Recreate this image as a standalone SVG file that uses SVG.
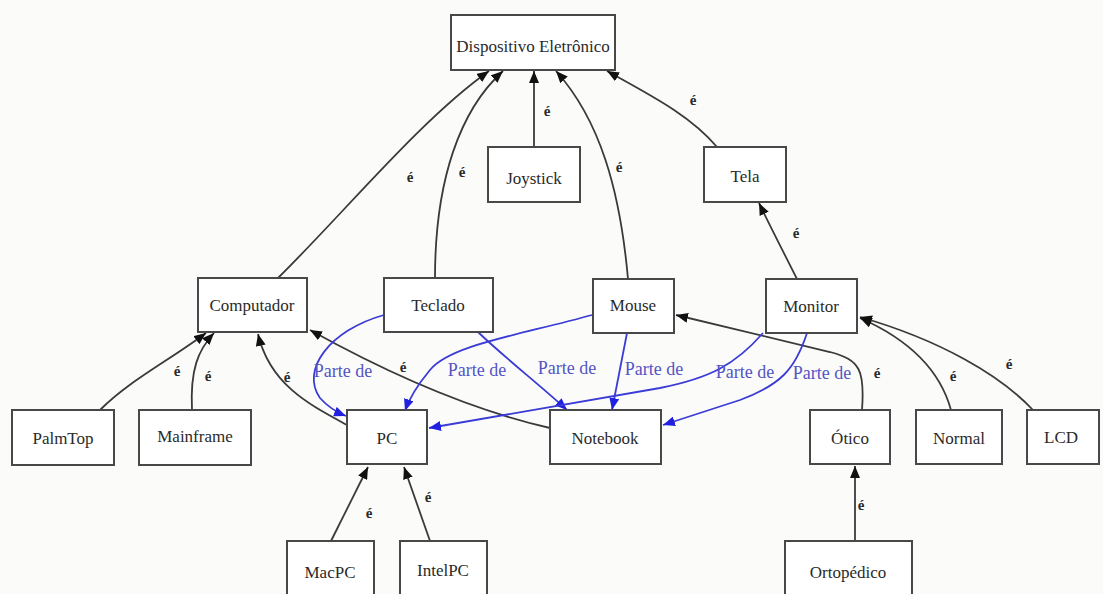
<svg xmlns="http://www.w3.org/2000/svg" width="1103" height="594" viewBox="0 0 1103 594">
  <style>
    .node rect { fill: #ffffff; stroke: #484848; stroke-width: 2; }
    .node text { font-family: 'Liberation Serif', 'DejaVu Serif', serif; font-size: 17px; fill: #2a2a2a; text-anchor: middle; }
    .is { fill: none; stroke: #3a3a3a; stroke-width: 1.8; marker-end: url(#ah); }
    .part { fill: none; stroke: #3b3bd6; stroke-width: 1.8; marker-end: url(#bh); }
    .lbl { font-family: 'Liberation Serif', 'DejaVu Serif', serif; font-size: 15px; font-weight: bold; fill: #2a2a2a; text-anchor: middle; }
    .plbl { font-family: 'Liberation Serif', 'DejaVu Serif', serif; font-size: 18px; fill: #5454c4; text-anchor: middle; }
  </style>
  <defs>
    <marker id="ah" viewBox="0 0 12 10" refX="12" refY="5" markerWidth="12" markerHeight="10" markerUnits="userSpaceOnUse" orient="auto">
      <path d="M0,0 L12,5 L0,10 z" fill="#111"/>
    </marker>
    <marker id="bh" viewBox="0 0 12 10" refX="12" refY="5" markerWidth="12" markerHeight="10" markerUnits="userSpaceOnUse" orient="auto">
      <path d="M0,0 L12,5 L0,10 z" fill="#2020e0"/>
    </marker>
  </defs>
  <rect width="1103" height="594" fill="#fbfcfa"/>

  <!-- connectors -->
  <g id="edges">
    <!-- "é" (is-a) links -->
    <path class="is" d="M278,278 C345,212 420,120 489,71"/>
    <path class="is" d="M435,278 C435,180 460,110 503,71"/>
    <path class="is" d="M534,147 L534,71"/>
    <path class="is" d="M628,279 C620,190 600,120 556,71"/>
    <path class="is" d="M717,147 C690,115 650,95 607,71"/>
    <path class="is" d="M797,279 C785,255 772,230 759,203"/>
    <path class="is" d="M100,410 C130,380 170,360 206,333"/>
    <path class="is" d="M192,410 C190,370 198,350 214,333"/>
    <path class="is" d="M347,425 C310,405 270,385 258,334"/>
    <path class="is" d="M550,428 C480,412 400,380 310,330"/>
    <path class="is" d="M862,410 C865,370 860,360 830,352 L676,315"/>
    <path class="is" d="M951,410 C940,370 910,340 860,318"/>
    <path class="is" d="M1033,410 C1000,375 940,340 860,317"/>
    <path class="is" d="M331,541 L368,467"/>
    <path class="is" d="M430,541 L404,467"/>
    <path class="is" d="M855,541 L855,466"/>

    <!-- "Parte de" (part-of) links -->
    <path class="part" d="M384,315 C330,330 300,370 320,398 C328,407 336,412 346,416"/>
    <path class="part" d="M592,315 C520,335 450,345 430,370 C420,382 410,396 405,411"/>
    <path class="part" d="M478,332 C505,358 540,385 567,410"/>
    <path class="part" d="M627,333 L612,410"/>
    <path class="part" d="M763,333 C735,365 710,378 660,388 L429,428"/>
    <path class="part" d="M807,333 C795,370 780,385 740,400 L663,425"/>

    <!-- labels -->
    <text class="lbl" x="410" y="182">é</text>
    <text class="lbl" x="462" y="177">é</text>
    <text class="lbl" x="547" y="116">é</text>
    <text class="lbl" x="619" y="172">é</text>
    <text class="lbl" x="693" y="105">é</text>
    <text class="lbl" x="796" y="238">é</text>
    <text class="lbl" x="177" y="376">é</text>
    <text class="lbl" x="208" y="381">é</text>
    <text class="lbl" x="287" y="382">é</text>
    <text class="lbl" x="403" y="372">é</text>
    <text class="lbl" x="877" y="378">é</text>
    <text class="lbl" x="953" y="381">é</text>
    <text class="lbl" x="1009" y="369">é</text>
    <text class="lbl" x="369" y="518">é</text>
    <text class="lbl" x="428" y="502">é</text>
    <text class="lbl" x="861" y="510">é</text>

    <text class="plbl" x="343" y="377">Parte de</text>
    <text class="plbl" x="477" y="376">Parte de</text>
    <text class="plbl" x="567" y="374">Parte de</text>
    <text class="plbl" x="654" y="375">Parte de</text>
    <text class="plbl" x="745" y="378">Parte de</text>
    <text class="plbl" x="822" y="379">Parte de</text>
  </g>

  <!-- nodes -->
  <g id="dispositivo" class="node"><rect x="451" y="15" width="164" height="55"/><text x="533" y="52">Dispositivo Eletrônico</text></g>
  <g id="joystick" class="node"><rect x="488" y="147" width="92" height="55"/><text x="534" y="184">Joystick</text></g>
  <g id="tela" class="node"><rect x="704" y="147" width="82" height="55"/><text x="745" y="182">Tela</text></g>
  <g id="computador" class="node"><rect x="198" y="278" width="109" height="54"/><text x="252" y="311">Computador</text></g>
  <g id="teclado" class="node"><rect x="384" y="278" width="109" height="54"/><text x="438" y="311">Teclado</text></g>
  <g id="mouse" class="node"><rect x="593" y="279" width="81" height="54"/><text x="633" y="311">Mouse</text></g>
  <g id="monitor" class="node"><rect x="766" y="279" width="91" height="54"/><text x="811" y="312">Monitor</text></g>
  <g id="palmtop" class="node"><rect x="12" y="410" width="102" height="55"/><text x="63" y="444">PalmTop</text></g>
  <g id="mainframe" class="node"><rect x="139" y="410" width="112" height="55"/><text x="195" y="442">Mainframe</text></g>
  <g id="pc" class="node"><rect x="347" y="410" width="80" height="54"/><text x="387" y="444">PC</text></g>
  <g id="notebook" class="node"><rect x="550" y="410" width="111" height="54"/><text x="605" y="444">Notebook</text></g>
  <g id="otico" class="node"><rect x="810" y="410" width="80" height="54"/><text x="850" y="444">Ótico</text></g>
  <g id="normal" class="node"><rect x="916" y="410" width="86" height="54"/><text x="959" y="444">Normal</text></g>
  <g id="lcd" class="node"><rect x="1027" y="410" width="72" height="54"/><text x="1061" y="443">LCD</text></g>
  <g id="macpc" class="node"><rect x="287" y="541" width="87" height="60"/><text x="330" y="578">MacPC</text></g>
  <g id="intelpc" class="node"><rect x="400" y="541" width="87" height="60"/><text x="443" y="576">IntelPC</text></g>
  <g id="ortopedico" class="node"><rect x="785" y="541" width="127" height="60"/><text x="848" y="578">Ortopédico</text></g>
</svg>
